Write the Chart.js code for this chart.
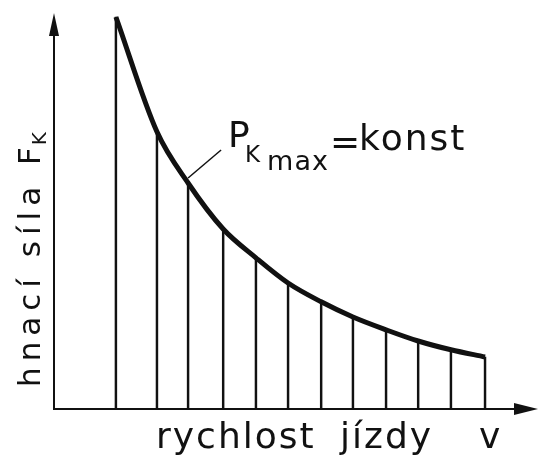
<!DOCTYPE html>
<html>
<head>
<meta charset="utf-8">
<script src="https://cdn.jsdelivr.net/npm/chart.js@4/dist/chart.umd.min.js"></script>
<style>
html,body{margin:0;padding:0;background:#fff;}
#c{display:block;}
</style>
</head>
<body>
<canvas id="c" width="540" height="456"></canvas>
<script>
// speed values (arbitrary units) at the vertical hatch lines
const speeds = [1.87, 3.11, 4.05, 5.11, 6.10, 7.07, 8.07, 9.03, 10.03, 11.0, 11.99, 13.02];
// tractive force (arbitrary units) on the P = const hyperbola
const forces = [9.8, 6.93, 5.65, 4.5, 3.78, 3.15, 2.68, 2.3, 1.98, 1.7, 1.48, 1.3];
const xMax = 14.62;
const yMax = 9.9;
const yLabel = ["hnací síla F", "K"];
const xLabel = ["rychlost", "jízdy", "v"];
const annot = ["P", "K", "max", "=", "konst"];

const pts = speeds.map((v, i) => ({x: v, y: forces[i]}));

const INK = '#111';
const FONT = '"DejaVu Sans", "Liberation Sans", sans-serif';

function spacing(ctx, px) { if ('letterSpacing' in ctx) ctx.letterSpacing = px + 'px'; }

const drawing = {
  id: 'drawing',
  afterDatasetsDraw(chart) {
    const ctx = chart.ctx;
    const xs = chart.scales.x, ys = chart.scales.y;
    const ca = chart.chartArea;
    const x0 = xs.getPixelForValue(0), y0 = ys.getPixelForValue(0);
    ctx.save();
    ctx.strokeStyle = INK; ctx.fillStyle = INK;
    // axes
    ctx.lineWidth = 2;
    ctx.beginPath();
    ctx.moveTo(x0, y0 + 1); ctx.lineTo(x0, ca.top + 18);
    ctx.moveTo(x0 - 1, y0); ctx.lineTo(ca.right - 20, y0);
    ctx.stroke();
    // arrow heads
    ctx.beginPath();
    ctx.moveTo(x0, ca.top); ctx.lineTo(x0 - 5, ca.top + 23); ctx.lineTo(x0 + 5, ca.top + 23); ctx.closePath();
    ctx.fill();
    ctx.beginPath();
    ctx.moveTo(ca.right, y0); ctx.lineTo(ca.right - 24, y0 - 6); ctx.lineTo(ca.right - 24, y0 + 6); ctx.closePath();
    ctx.fill();

    // leader line from curve to annotation
    const px = xs.getPixelForValue(speeds[2]), py = ys.getPixelForValue(forces[2]);
    ctx.lineWidth = 1.5;
    ctx.beginPath();
    ctx.moveTo(px, py - 5); ctx.lineTo(px + 33, py - 33);
    ctx.stroke();

    // annotation text
    ctx.textBaseline = 'alphabetic';
    ctx.textAlign = 'left';
    ctx.font = '36px ' + FONT;
    ctx.fillText(annot[0], px + 40, 147);
    ctx.font = '23px ' + FONT;
    ctx.fillText(annot[1], px + 57, 162);
    ctx.font = '27px ' + FONT;
    spacing(ctx, 1);
    ctx.fillText(annot[2], px + 79, 170);
    ctx.font = '36px ' + FONT;
    spacing(ctx, 0);
    ctx.fillText(annot[3], px + 142, 154);
    spacing(ctx, 2);
    ctx.fillText(annot[4], px + 171, 150);

    // x axis label
    ctx.font = '36px ' + FONT;
    spacing(ctx, 2);
    ctx.fillText(xLabel[0], 156, 448);
    ctx.fillText(xLabel[1], 340, 448);
    ctx.fillText(xLabel[2], 479, 448);

    // y axis label (rotated)
    ctx.save();
    ctx.translate(43, 387);
    ctx.rotate(-Math.PI / 2);
    ctx.font = '31px ' + FONT;
    spacing(ctx, 6);
    ctx.fillText(yLabel[0], 0, -3);
    const w = ctx.measureText(yLabel[0]).width;
    ctx.font = '20px ' + FONT;
    spacing(ctx, 0);
    ctx.fillText(yLabel[1], w - 4, 3);
    ctx.restore();

    ctx.restore();
  }
};

new Chart(document.getElementById('c'), {
  data: {
    datasets: [
      {
        type: 'line',
        data: pts,
        borderColor: INK,
        borderWidth: 5,
        borderCapStyle: 'butt',
        cubicInterpolationMode: 'monotone',
        pointRadius: 0,
        fill: false,
        order: 0
      },
      {
        type: 'bar',
        data: pts,
        backgroundColor: INK,
        borderWidth: 0,
        barThickness: 1.8,
        order: 1
      }
    ]
  },
  options: {
    responsive: false,
    animation: false,
    layout: {padding: {left: 54, right: 2, top: 13, bottom: 47}},
    plugins: {legend: {display: false}, tooltip: {enabled: false}},
    scales: {
      x: {type: 'linear', min: 0, max: xMax, display: false, offset: false},
      y: {type: 'linear', min: 0, max: yMax, display: false}
    }
  },
  plugins: [drawing]
});
</script>
</body>
</html>
